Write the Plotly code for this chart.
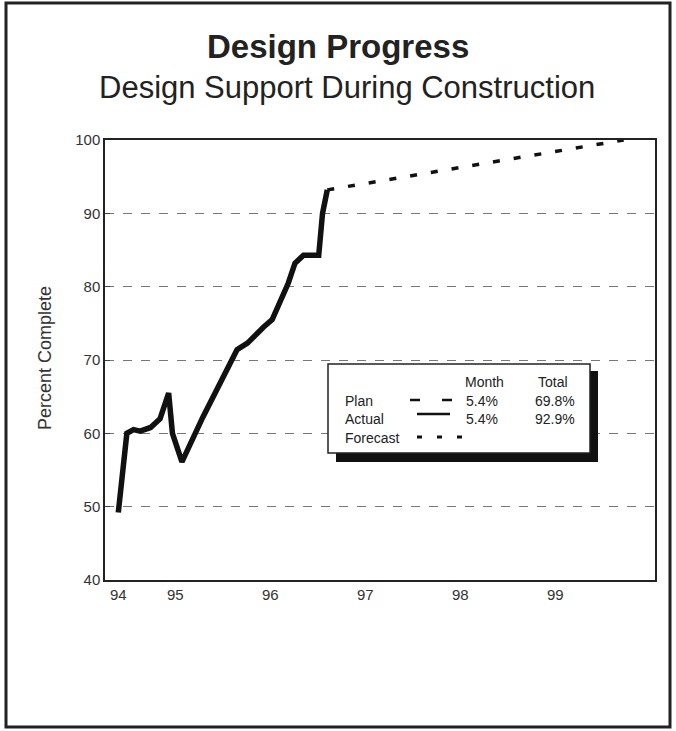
import plotly.graph_objects as go

# ---- data ----
actual_year = [94.40, 94.49, 94.56, 94.63, 94.74, 94.84, 94.93, 94.97, 95.07, 95.29,
               95.65, 95.76, 95.93, 96.02, 96.19, 96.26, 96.35, 96.51, 96.55, 96.60]
actual_pct = [49.2, 60.0, 60.5, 60.3, 60.8, 62.0, 65.5, 60.0, 56.1, 62.2,
              71.4, 72.3, 74.5, 75.5, 80.5, 83.2, 84.3, 84.3, 90.0, 93.2]
forecast_year = [96.60, 99.72]
forecast_pct = [93.2, 100.0]

x_tickvals = [94.4, 95, 96, 97, 98, 99]
x_ticktext = ["94", "95", "96", "97", "98", "99"]
y_tickvals = [40, 50, 60, 70, 80, 90, 100]

legend_names = ["Plan", "Actual", "Forecast"]
legend_month = ["5.4%", "5.4%", ""]
legend_total = ["69.8%", "92.9%", ""]

# ---- layout helpers (pixel -> paper) ----
L, R, T, B = 105, 655, 140, 580
def px(x):
    return (x - L) / (R - L)
def py(y):
    return (B - y) / (B - T)

FONT = "Liberation Sans, Arial, sans-serif"

fig = go.Figure()
fig.add_trace(go.Scatter(x=actual_year, y=actual_pct, mode="lines",
                         line=dict(color="#111", width=5.5), showlegend=False,
                         hoverinfo="skip"))
fig.add_trace(go.Scatter(x=forecast_year, y=forecast_pct, mode="lines",
                         line=dict(color="#111", width=3.5, dash="7px,14px"),
                         showlegend=False, hoverinfo="skip"))

shapes = []
# outer frame
shapes.append(dict(type="rect", xref="paper", yref="paper",
                   x0=px(6), x1=px(670), y0=py(727), y1=py(3),
                   line=dict(color="#222", width=3), layer="below"))
# legend box shadow + box
shapes.append(dict(type="rect", xref="paper", yref="paper",
                   x0=px(336), x1=px(598), y0=py(462), y1=py(371),
                   fillcolor="#111", line=dict(width=0)))
shapes.append(dict(type="rect", xref="paper", yref="paper",
                   x0=px(328), x1=px(590), y0=py(453), y1=py(364),
                   fillcolor="white", line=dict(color="#222", width=1.5)))
# legend samples
shapes.append(dict(type="line", xref="paper", yref="paper",
                   x0=px(410), x1=px(452), y0=py(400), y1=py(400),
                   line=dict(color="#111", width=2.5, dash="10px,22px")))
shapes.append(dict(type="line", xref="paper", yref="paper",
                   x0=px(417), x1=px(450), y0=py(414), y1=py(414),
                   line=dict(color="#111", width=2.5)))
shapes.append(dict(type="line", xref="paper", yref="paper",
                   x0=px(417), x1=px(464), y0=py(437), y1=py(437),
                   line=dict(color="#111", width=3, dash="5px,15px")))

annotations = []
annotations.append(dict(text="<b>Design Progress</b>", xref="paper", yref="paper",
                        x=px(338), y=py(47), showarrow=False,
                        font=dict(family=FONT, size=33, color="#222"),
                        xanchor="center", yanchor="middle"))
annotations.append(dict(text="Design Support During Construction", xref="paper", yref="paper",
                        x=px(347), y=py(87), showarrow=False,
                        font=dict(family=FONT, size=31, color="#222"),
                        xanchor="center", yanchor="middle"))
annotations.append(dict(text="Percent Complete", xref="paper", yref="paper",
                        x=px(45), y=py(358), showarrow=False, textangle=-90,
                        font=dict(family=FONT, size=18, color="#333"),
                        xanchor="center", yanchor="middle"))
lf = dict(family=FONT, size=14, color="#222")
annotations.append(dict(text="Month", xref="paper", yref="paper", x=px(484), y=py(382),
                        showarrow=False, font=lf, xanchor="center", yanchor="middle"))
annotations.append(dict(text="Total", xref="paper", yref="paper", x=px(553), y=py(382),
                        showarrow=False, font=lf, xanchor="center", yanchor="middle"))
row_y = [401, 419, 438]
for i, nm in enumerate(legend_names):
    annotations.append(dict(text=nm, xref="paper", yref="paper", x=px(343), y=py(row_y[i]),
                            showarrow=False, font=lf, xanchor="left", yanchor="middle"))
    if legend_month[i]:
        annotations.append(dict(text=legend_month[i], xref="paper", yref="paper",
                                x=px(464), y=py(row_y[i]), showarrow=False, font=lf,
                                xanchor="left", yanchor="middle"))
    if legend_total[i]:
        annotations.append(dict(text=legend_total[i], xref="paper", yref="paper",
                                x=px(533), y=py(row_y[i]), showarrow=False, font=lf,
                                xanchor="left", yanchor="middle"))

fig.update_layout(
    width=676, height=731,
    margin=dict(l=L, r=676 - R, t=T, b=731 - B),
    paper_bgcolor="white", plot_bgcolor="white",
    font=dict(family=FONT, size=15, color="#333"),
    shapes=shapes, annotations=annotations,
    xaxis=dict(range=[94.26, 100.05], tickvals=x_tickvals, ticktext=x_ticktext,
               showgrid=False, zeroline=False, showline=True, linecolor="#222",
               linewidth=1.5, mirror=True, ticks="", tickfont=dict(size=15, color="#333")),
    yaxis=dict(range=[40, 100], tickvals=y_tickvals, showgrid=True,
               gridcolor="#777", griddash="dash", gridwidth=1, zeroline=False,
               showline=True, linecolor="#222", linewidth=1.5, mirror=True,
               ticks="inside", ticklen=5, tickcolor="#444",
               tickfont=dict(size=15, color="#333")),
)

fig.write_html("out.html", config={"displayModeBar": False},
               post_script="document.body.style.margin='0';document.body.style.padding='0';")
